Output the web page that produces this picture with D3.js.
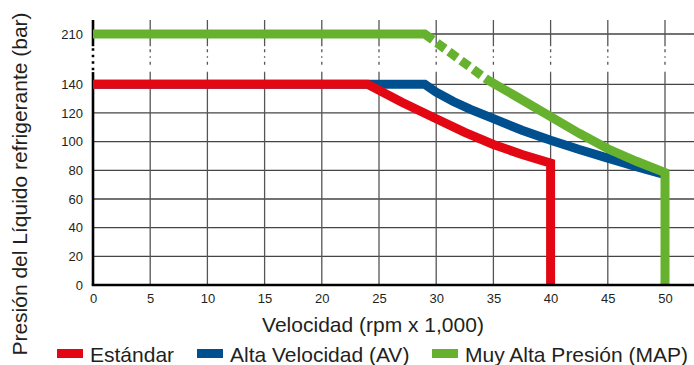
<!DOCTYPE html>
<html><head><meta charset="utf-8">
<script src="https://cdn.jsdelivr.net/npm/d3@7"></script>
<style>
html,body{margin:0;padding:0;background:#fff;}
svg{display:block;font-family:"Liberation Sans",Arial,Helvetica,sans-serif;}
</style></head>
<body><svg id="chart" width="694" height="365"></svg>
<script>
// ---- data ----
const xTicks = [0,5,10,15,20,25,30,35,40,45,50];
const yTicks = [0,20,40,60,80,100,120,140,210];
const seriesNames = ["Estándar","Alta Velocidad (AV)","Muy Alta Presión (MAP)"];
const seriesColors = ["#e30613","#00508f","#66b22e"];
// Estándar
const stdX = [0,24,27,30,32.5,35,37.5,40,40];
const stdY = [140,140,127.5,116,106.5,98,91,85,0];
// Alta Velocidad (AV)
const avX = [0,29,30,31.5,33,35,37.5,40,42.5,45,47.5,50];
const avY = [140,140,134.5,128,122.5,116,108,101,94.5,88.5,82.5,77];
// Muy Alta Presión (MAP): flat, dashed transition, solid
const mapX = [0,29,34.5,37,40,42.5,45,47.5,50,50];
const mapY = [210,210,146,131.5,117.4,105.8,95,86.3,78.5,0];
const xTitle = "Velocidad (rpm x 1,000)";
const yTitle = "Presión del Líquido refrigerante (bar)";

// ---- layout ----
const W = 694, H = 365;
const svg = d3.select("#chart");
const x = d3.scaleLinear().domain([0,50]).range([93,665]);
const y = d3.scaleLinear().domain([0,140,210,229.5]).range([285,84.3,34,20]);
const breakLo = 157, breakHi = 193;
const gridRight = W;
const textCol = "#231f20";

const g = svg.append("g");

// horizontal grid
g.selectAll("line.hg").data(yTicks.filter(d=>d>0)).join("line")
  .attr("x1", x(0)).attr("x2", gridRight)
  .attr("y1", d=>y(d)).attr("y2", d=>y(d))
  .attr("stroke", "#444").attr("stroke-width", 1.3);

// vertical grid (solid parts + dotted break)
const vx = xTicks.filter(d=>d>0);
vx.forEach(v=>{
  g.append("line").attr("x1",x(v)).attr("x2",x(v)).attr("y1",y(229.5)).attr("y2",y(breakHi))
    .attr("stroke","#555").attr("stroke-width",1.3);
  g.append("line").attr("x1",x(v)).attr("x2",x(v)).attr("y1",y(breakHi)).attr("y2",y(breakLo))
    .attr("stroke","#555").attr("stroke-width",1.3).attr("stroke-dasharray","0,3,3,4,1.5,4,3,4");
  g.append("line").attr("x1",x(v)).attr("x2",x(v)).attr("y1",y(breakLo)).attr("y2",y(0))
    .attr("stroke","#555").attr("stroke-width",1.3);
});

// left axis line with break
g.append("line").attr("x1",x(0)).attr("x2",x(0)).attr("y1",y(229.5)).attr("y2",y(breakHi))
  .attr("stroke","#000").attr("stroke-width",2.6);
g.append("line").attr("x1",x(0)).attr("x2",x(0)).attr("y1",y(breakHi)+2).attr("y2",y(breakLo))
  .attr("stroke","#000").attr("stroke-width",2.6).attr("stroke-dasharray","2.5,4");
g.append("line").attr("x1",x(0)).attr("x2",x(0)).attr("y1",y(breakLo)).attr("y2",y(0))
  .attr("stroke","#000").attr("stroke-width",2.6);

// series lines
const line = d3.line().x(d=>x(d[0])).y(d=>y(d[1]));
const zip = (a,b)=>a.map((v,i)=>[v,b[i]]);

g.append("path").datum(zip(avX,avY)).attr("d",line)
  .attr("fill","none").attr("stroke",seriesColors[1]).attr("stroke-width",9).attr("stroke-linejoin","miter");
g.append("path").datum(zip(stdX,stdY)).attr("d",line)
  .attr("fill","none").attr("stroke",seriesColors[0]).attr("stroke-width",9).attr("stroke-linejoin","miter");

const flatLen = x(mapX[1]) - x(mapX[0]);
g.append("path").datum(zip(mapX,mapY)).attr("d",line)
  .attr("fill","none").attr("stroke",seriesColors[2]).attr("stroke-width",9).attr("stroke-linejoin","miter")
  .attr("stroke-dasharray", `${flatLen+10},5,10,5,10,5,10,5,10,5,3000`);

// bottom axis line
g.append("line").attr("x1",x(0)-1.3).attr("x2",gridRight).attr("y1",y(0)).attr("y2",y(0))
  .attr("stroke","#000").attr("stroke-width",2.6);

// tick labels via axes
const yAxis = d3.axisLeft(y).tickValues(yTicks).tickSize(0).tickPadding(10).tickFormat(d3.format("d"));
const ya = svg.append("g").attr("transform",`translate(${x(0)},0)`).call(yAxis);
ya.select(".domain").remove();
ya.selectAll("text").attr("font-size",13).attr("fill",textCol).attr("font-family","Liberation Sans, Arial, sans-serif");

const xAxis = d3.axisBottom(x).tickValues(xTicks).tickSize(0).tickPadding(9).tickFormat(d3.format("d"));
const xa = svg.append("g").attr("transform",`translate(0,${y(0)})`).call(xAxis);
xa.select(".domain").remove();
xa.selectAll("text").attr("font-size",13).attr("fill",textCol).attr("font-family","Liberation Sans, Arial, sans-serif");

// titles
svg.append("text").attr("x",373).attr("y",331.5).attr("text-anchor","middle")
  .attr("font-size",21).attr("fill",textCol).text(xTitle);
svg.append("text").attr("transform","translate(27,184) rotate(-90)").attr("text-anchor","middle")
  .attr("font-size",21).attr("fill",textCol).text(yTitle);

// legend
const legX = [57,197,432];
seriesNames.forEach((n,i)=>{
  svg.append("rect").attr("x",legX[i]).attr("y",349).attr("width",26).attr("height",9).attr("fill",seriesColors[i]);
  svg.append("text").attr("x",legX[i]+33).attr("y",361.5).attr("font-size",21).attr("fill",textCol).text(n);
});
</script></body></html>
